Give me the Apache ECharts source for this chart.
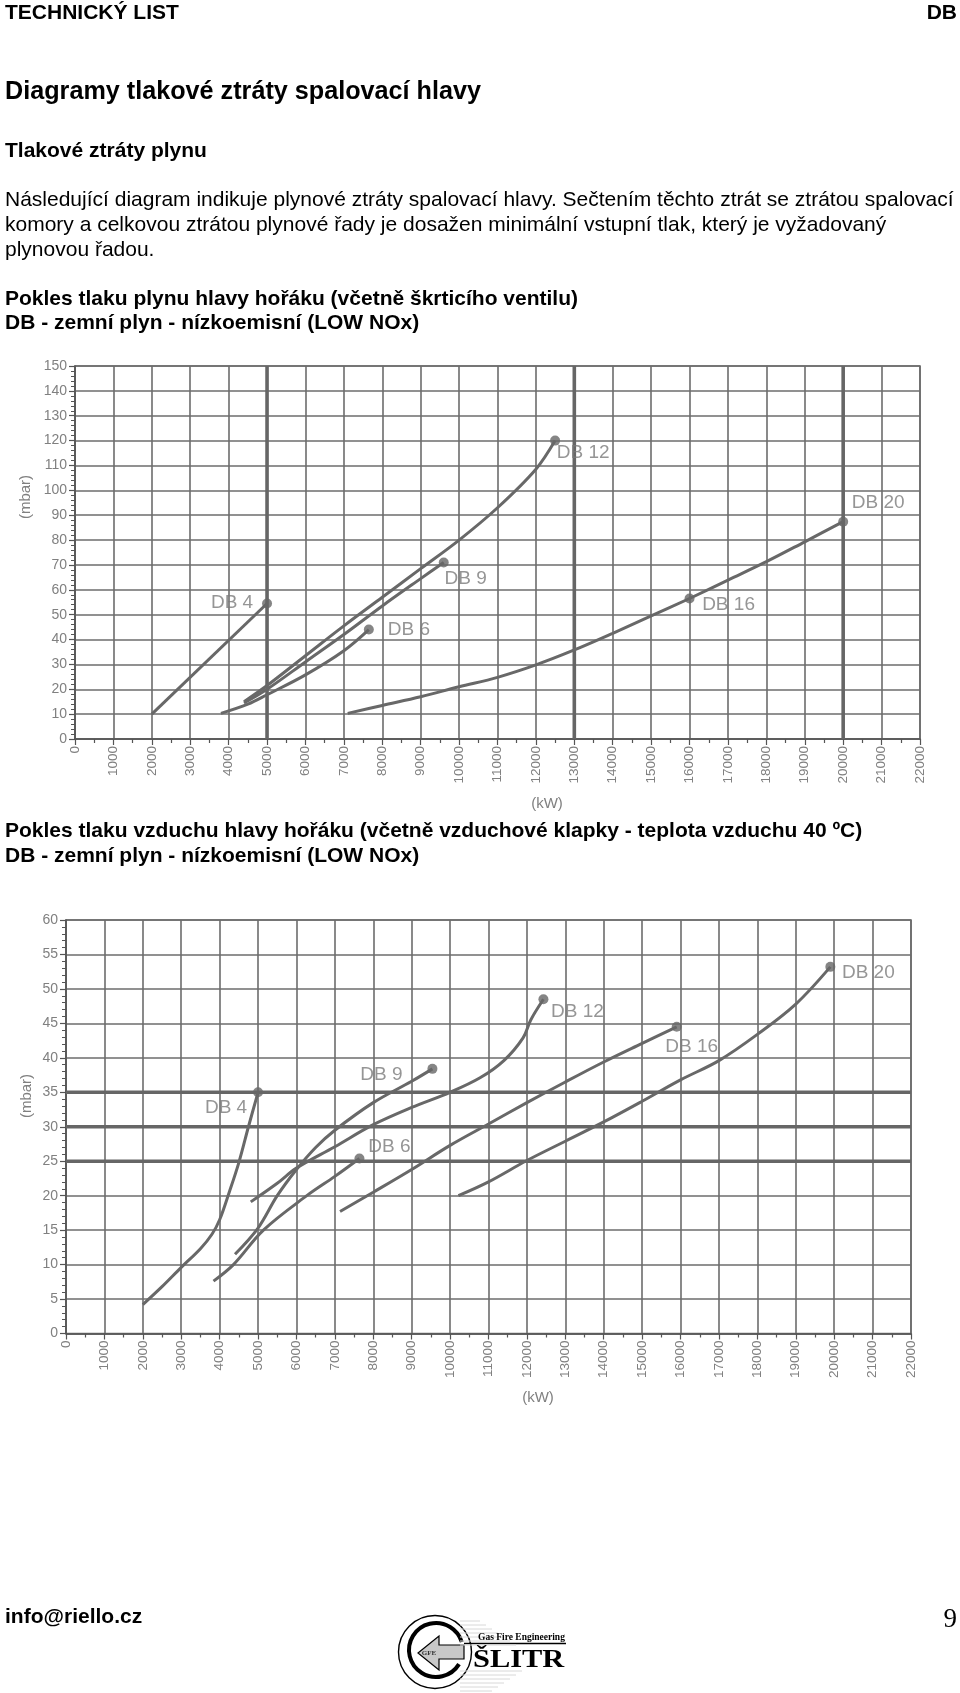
<!DOCTYPE html>
<html><head><meta charset="utf-8">
<script src="https://cdn.jsdelivr.net/npm/echarts@6/dist/echarts.min.js"></script>
<style>html,body{margin:0;padding:0;background:#fff}#c{width:960px;height:1693px}</style>
</head><body><div id="c"></div><script>
// ---------- DATA ----------
// Chart 1: gas pressure drop (mbar) vs output (kW)
const gasDB4  = [[2000,10],[5000,54.5]];
const gasDB6  = [[3800,10.3],[4500,14],[5000,17.8],[6000,25.8],[7000,35.5],[7650,44]];
const gasDB9  = [[4400,14.5],[5000,20],[6000,31],[7000,42],[8000,53.5],[9000,64.5],[9600,71]];
const gasDB12 = [[4400,15],[5000,21.5],[6000,33.5],[7000,45.5],[8000,57],[9000,68.5],[10000,80],[11000,93],[12000,108.5],[12500,120]];
const gasDB16 = [[7100,10.3],[8000,13.5],[9000,17],[10000,21],[11000,24.8],[12000,29.8],[13000,35.8],[14000,42.5],[15000,49.5],[16000,56.5]];
const gasDB20 = [[16000,56.5],[17000,63.9],[18000,71.3],[19000,79.3],[20000,87.4]];
const gasThickX = [5000,13000,20000];
// Chart 2: air pressure drop (mbar) vs output (kW)
const airDB4  = [[2000,4.2],[2500,6.8],[3000,9.6],[3500,12.3],[3800,14.4],[4000,16.5],[4250,20.5],[4500,24.8],[4750,30],[5000,35]];
const airDB6  = [[3840,7.6],[4360,10],[5140,15],[6270,20],[7000,22.8],[7640,25.4]];
const airDB9  = [[4400,11.5],[5000,15.3],[5500,20],[6000,23.8],[6500,27],[7000,29.5],[8000,33.5],[9000,36.6],[9540,38.4]];
const airDB12 = [[4810,19.1],[5500,21.8],[6000,24],[7000,27.1],[8000,30.3],[9000,32.8],[10000,35],[10780,37.1],[11400,39.6],[11900,42.9],[12100,45.5],[12430,48.5]];
const airDB16 = [[7135,17.7],[8000,20.5],[9000,23.8],[10000,27.3],[11000,30.4],[12000,33.5],[13000,36.5],[14000,39.4],[15000,42.1],[15900,44.5]];
const airDB20 = [[10217,20],[11000,22],[12000,25.1],[13000,27.9],[14000,30.7],[15000,33.7],[16000,36.8],[17000,39.6],[18000,43.4],[19000,47.8],[19900,53.2]];
const airThickY = [25,30,35];
// Axis ranges
const xMin = 0, xMax = 22000, xStep = 1000;
const gasYMax = 150, gasYStep = 10;
const airYMax = 60, airYStep = 5;

// ---------- STYLE ----------
const FONT = 'Liberation Sans, Arial, sans-serif';
const SERIF = 'Liberation Serif, Times New Roman, serif';
const GRID_C = '#6c6c6c', CURVE_C = '#686868', LABEL_C = '#808080';

function xAxis(gi){
  return {type:'value', gridIndex:gi, min:xMin, max:xMax, interval:xStep,
    axisLine:{show:true, lineStyle:{color:'#555', width:1.5}},
    axisTick:{show:true, length:6, lineStyle:{color:'#555', width:1.2}},
    minorTick:{show:true, splitNumber:2, length:4, lineStyle:{color:'#555', width:1.2}},
    splitLine:{show:true, lineStyle:{color:GRID_C, width:1.6}},
    axisLabel:{rotate:90, margin:7, color:LABEL_C, fontSize:13.5, fontFamily:FONT, formatter:v => String(v)}};
}
function yAxis(gi, max, step){
  return {type:'value', gridIndex:gi, min:0, max:max, interval:step,
    axisLine:{show:true, lineStyle:{color:'#555', width:1.5}},
    axisTick:{show:true, length:6, lineStyle:{color:'#555', width:1.2}},
    minorTick:{show:true, splitNumber:5, length:4, lineStyle:{color:'#555', width:1}},
    splitLine:{show:true, lineStyle:{color:GRID_C, width:1.6}},
    axisLabel:{margin:8, color:LABEL_C, fontSize:14, fontFamily:FONT, formatter:v => String(v)}};
}
function curve(data, gi){
  return {type:'line', xAxisIndex:gi, yAxisIndex:gi, data:data, smooth:0.35,
    showSymbol:false, silent:true, z:3, lineStyle:{color:CURVE_C, width:3}};
}
function dot(name, data, gi, offset){
  return {type:'scatter', xAxisIndex:gi, yAxisIndex:gi, data:[data[data.length-1]], symbolSize:10, silent:true, z:4,
    itemStyle:{color:'#666'},
    label:{show:true, formatter:name, position:'inside', offset:offset, color:'#7a7a7a', fontSize:19, fontFamily:FONT}};
}
function thick(pts, gi){
  return {type:'line', xAxisIndex:gi, yAxisIndex:gi, data:pts, showSymbol:false, silent:true, z:1,
    lineStyle:{color:'#666', width:3.6}};
}
const series = [];
gasThickX.forEach(v => series.push(thick([[v,0],[v,gasYMax]], 0)));
airThickY.forEach(v => series.push(thick([[xMin,v],[xMax,v]], 1)));
series.push(curve(gasDB4,0), curve(gasDB6,0), curve(gasDB9,0), curve(gasDB12,0), curve(gasDB16,0), curve(gasDB20,0));
series.push(dot('DB 4',gasDB4,0,[-35,-1]), dot('DB 6',gasDB6,0,[40,0]), dot('DB 9',gasDB9,0,[22,16]),
  dot('DB 12',gasDB12,0,[28,12]), dot('DB 16',gasDB16,0,[39,6]), dot('DB 20',gasDB20,0,[35,-19]));
series.push(curve(airDB4,1), curve(airDB6,1), curve(airDB9,1), curve(airDB12,1), curve(airDB16,1), curve(airDB20,1));
series.push(dot('DB 4',airDB4,1,[-32,15]), dot('DB 6',airDB6,1,[30,-11.5]), dot('DB 9',airDB9,1,[-51,6]),
  dot('DB 12',airDB12,1,[34,12.5]), dot('DB 16',airDB16,1,[15,19.5]), dot('DB 20',airDB20,1,[38,6]));

function txt(t, x, y, size, weight, opts){
  opts = opts || {};
  return {type:'text', silent:true, z:10, rotation:opts.rot||0, scaleX:opts.sx||1, x:x, y:y,
    style:{text:t, x:0, y:0, fontSize:size, fontWeight:weight, fontFamily:opts.family||FONT,
      fill:opts.fill||'#000', align:opts.align||'left', verticalAlign:'middle'}};
}
const P = 21;
const graphic = [
  txt('TECHNICKÝ LIST', 5, 13, 21, 'bold'),
  txt('DB', 957, 13, 21, 'bold', {align:'right'}),
  txt('Diagramy tlakové ztráty spalovací hlavy', 5, 92, 25.2, 'bold'),
  txt('Tlakové ztráty plynu', 5, 151, 21, 'bold'),
  txt('Následující diagram indikuje plynové ztráty spalovací hlavy. Sečtením těchto ztrát se ztrátou spalovací', 5, 200.5, P, 'normal'),
  txt('komory a celkovou ztrátou plynové řady je dosažen minimální vstupní tlak, který je vyžadovaný', 5, 225.5, P, 'normal'),
  txt('plynovou řadou.', 5, 250, P, 'normal'),
  txt('Pokles tlaku plynu hlavy hořáku (včetně škrticího ventilu)', 5, 299, 21, 'bold'),
  txt('DB - zemní plyn - nízkoemisní (LOW NOx)', 5, 323, 21, 'bold'),
  txt('Pokles tlaku vzduchu hlavy hořáku (včetně vzduchové klapky - teplota vzduchu 40 ºC)', 5, 831.5, 21, 'bold'),
  txt('DB - zemní plyn - nízkoemisní (LOW NOx)', 5, 856, 21, 'bold'),
  txt('(mbar)', 26, 497, 15, 'normal', {rot:Math.PI/2, align:'center', fill:LABEL_C}),
  txt('(kW)', 547, 804, 15, 'normal', {align:'center', fill:LABEL_C}),
  txt('(mbar)', 27, 1096, 15, 'normal', {rot:Math.PI/2, align:'center', fill:LABEL_C}),
  txt('(kW)', 538, 1398, 15, 'normal', {align:'center', fill:LABEL_C}),
  txt('info@riello.cz', 5, 1617, 21, 'bold'),
  txt('9', 957, 1620, 27, 'normal', {align:'right', family:SERIF}),
  // logo
  {type:'circle', silent:true, shape:{cx:435, cy:1652, r:36.5}, style:{fill:'none', stroke:'#000', lineWidth:1.4}},
  {type:'arc', silent:true, shape:{cx:436, cy:1650, r:27, startAngle:0.55, endAngle:Math.PI*2-0.3, clockwise:true}, style:{fill:'none', stroke:'#000', lineWidth:4}},
  {type:'polygon', silent:true, shape:{points:[[418,1653],[439,1636],[439,1645],[464,1645],[464,1659],[439,1659],[439,1670]]}, style:{fill:'#c8c8c8', stroke:'#000', lineWidth:1.2}},
  {type:'line', silent:true, shape:{x1:464, y1:1643.5, x2:566, y2:1643.5}, style:{stroke:'#000', lineWidth:1.5}},
  txt('GFE', 429, 1653, 7, 'bold', {align:'center', family:SERIF, fill:'#333'}),
  txt('Gas Fire Engineering', 478, 1637.5, 9.5, 'bold', {family:SERIF}),
  txt('ŠLITR', 473, 1660, 26, 'bold', {family:SERIF, sx:1.17})
];
for (let i = 0; i < 7; i++) {
  graphic.push({type:'line', silent:true, z:0, shape:{x1:460, y1:1621+i*4, x2:480+i*6, y2:1621+i*4}, style:{stroke:'#d8d8d8', lineWidth:1}});
  graphic.push({type:'line', silent:true, z:0, shape:{x1:460, y1:1671+i*4, x2:522-i*6, y2:1671+i*4}, style:{stroke:'#d8d8d8', lineWidth:1}});
}

const chart = echarts.init(document.getElementById('c'), null, {renderer:'canvas'});
chart.setOption({
  animation:false, backgroundColor:'#fff',
  grid:[
    {left:75, top:366, width:845, height:373, show:true, borderColor:GRID_C, borderWidth:1.6},
    {left:66, top:920, width:845, height:413.5, show:true, borderColor:GRID_C, borderWidth:1.6}
  ],
  xAxis:[xAxis(0), xAxis(1)],
  yAxis:[yAxis(0, gasYMax, gasYStep), yAxis(1, airYMax, airYStep)],
  series:series,
  graphic:graphic
});
</script></body></html>
